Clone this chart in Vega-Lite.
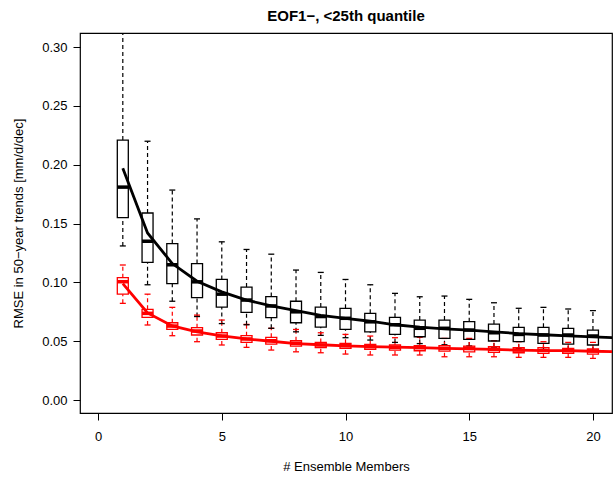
{
  "$schema": "https://vega.github.io/schema/vega-lite/v6.json",
  "autosize": {"type": "none"},
  "width": 532,
  "height": 380,
  "padding": {"left": 80, "top": 33, "right": 3, "bottom": 64},
  "background": "white",
  "config": {
    "font": "Liberation Sans",
    "view": {"stroke": "black", "strokeWidth": 1.2},
    "scale": {"continuousPadding": 0},
    "axis": {
      "domain": false,
      "grid": false,
      "ticks": true,
      "tickColor": "black",
      "tickSize": 7,
      "tickWidth": 1,
      "labelColor": "black",
      "labelFontSize": 13,
      "titleColor": "black",
      "titleFontSize": 13,
      "titleFontWeight": "normal"
    }
  },
  "title": {
    "text": "EOF1−, <25th quantile",
    "fontSize": 15,
    "fontWeight": "bold",
    "anchor": "middle",
    "offset": 9,
    "color": "black"
  },
  "datasets": {
    "boxes": [
      {"n": 1, "grp": "Black", "lo": 0.131, "q1": 0.155, "med": 0.181, "q3": 0.221, "hi": 0.34},
      {"n": 2, "grp": "Black", "lo": 0.098, "q1": 0.117, "med": 0.135, "q3": 0.159, "hi": 0.220},
      {"n": 3, "grp": "Black", "lo": 0.084, "q1": 0.099, "med": 0.115, "q3": 0.133, "hi": 0.1785},
      {"n": 4, "grp": "Black", "lo": 0.071, "q1": 0.087, "med": 0.1005, "q3": 0.116, "hi": 0.154},
      {"n": 5, "grp": "Black", "lo": 0.065, "q1": 0.079, "med": 0.090, "q3": 0.1025, "hi": 0.1345},
      {"n": 6, "grp": "Black", "lo": 0.064, "q1": 0.0745, "med": 0.085, "q3": 0.096, "hi": 0.128},
      {"n": 7, "grp": "Black", "lo": 0.061, "q1": 0.070, "med": 0.080, "q3": 0.088, "hi": 0.124},
      {"n": 8, "grp": "Black", "lo": 0.058, "q1": 0.0657, "med": 0.075, "q3": 0.084, "hi": 0.1105},
      {"n": 9, "grp": "Black", "lo": 0.055, "q1": 0.062, "med": 0.071, "q3": 0.079, "hi": 0.1085},
      {"n": 10, "grp": "Black", "lo": 0.053, "q1": 0.060, "med": 0.0695, "q3": 0.078, "hi": 0.1025},
      {"n": 11, "grp": "Black", "lo": 0.051, "q1": 0.058, "med": 0.0665, "q3": 0.0737, "hi": 0.098},
      {"n": 12, "grp": "Black", "lo": 0.049, "q1": 0.0558, "med": 0.064, "q3": 0.0703, "hi": 0.0907},
      {"n": 13, "grp": "Black", "lo": 0.048, "q1": 0.0538, "med": 0.061, "q3": 0.068, "hi": 0.0878},
      {"n": 14, "grp": "Black", "lo": 0.047, "q1": 0.0524, "med": 0.061, "q3": 0.068, "hi": 0.0884},
      {"n": 15, "grp": "Black", "lo": 0.046, "q1": 0.0516, "med": 0.0595, "q3": 0.0666, "hi": 0.0856},
      {"n": 16, "grp": "Black", "lo": 0.045, "q1": 0.0502, "med": 0.0572, "q3": 0.0646, "hi": 0.0827},
      {"n": 17, "grp": "Black", "lo": 0.044, "q1": 0.0496, "med": 0.0558, "q3": 0.0618, "hi": 0.078},
      {"n": 18, "grp": "Black", "lo": 0.043, "q1": 0.0482, "med": 0.0553, "q3": 0.0618, "hi": 0.0788},
      {"n": 19, "grp": "Black", "lo": 0.0425, "q1": 0.0476, "med": 0.0553, "q3": 0.061, "hi": 0.0774},
      {"n": 20, "grp": "Black", "lo": 0.042, "q1": 0.0468, "med": 0.0544, "q3": 0.0595, "hi": 0.076},
      {"n": 1, "grp": "Red", "lo": 0.0822, "q1": 0.090, "med": 0.1006, "q3": 0.104, "hi": 0.1148},
      {"n": 2, "grp": "Red", "lo": 0.0638, "q1": 0.0703, "med": 0.0737, "q3": 0.0771, "hi": 0.090},
      {"n": 3, "grp": "Red", "lo": 0.0547, "q1": 0.060, "med": 0.0629, "q3": 0.0657, "hi": 0.0788},
      {"n": 4, "grp": "Red", "lo": 0.0496, "q1": 0.0553, "med": 0.0587, "q3": 0.0615, "hi": 0.0722},
      {"n": 5, "grp": "Red", "lo": 0.0468, "q1": 0.0516, "med": 0.0544, "q3": 0.0572, "hi": 0.068},
      {"n": 6, "grp": "Red", "lo": 0.0448, "q1": 0.049, "med": 0.0519, "q3": 0.0547, "hi": 0.0643},
      {"n": 7, "grp": "Red", "lo": 0.0425, "q1": 0.0476, "med": 0.0504, "q3": 0.0533, "hi": 0.061},
      {"n": 8, "grp": "Red", "lo": 0.041, "q1": 0.0459, "med": 0.0482, "q3": 0.0504, "hi": 0.060},
      {"n": 9, "grp": "Red", "lo": 0.0402, "q1": 0.0445, "med": 0.0468, "q3": 0.049, "hi": 0.0572},
      {"n": 10, "grp": "Red", "lo": 0.0391, "q1": 0.044, "med": 0.0462, "q3": 0.0482, "hi": 0.0558},
      {"n": 11, "grp": "Red", "lo": 0.0383, "q1": 0.0431, "med": 0.0453, "q3": 0.0473, "hi": 0.0544},
      {"n": 12, "grp": "Red", "lo": 0.0383, "q1": 0.0425, "med": 0.0448, "q3": 0.0468, "hi": 0.053},
      {"n": 13, "grp": "Red", "lo": 0.0383, "q1": 0.0419, "med": 0.0445, "q3": 0.0462, "hi": 0.0533},
      {"n": 14, "grp": "Red", "lo": 0.0368, "q1": 0.0416, "med": 0.044, "q3": 0.0462, "hi": 0.0524},
      {"n": 15, "grp": "Red", "lo": 0.0368, "q1": 0.041, "med": 0.044, "q3": 0.0459, "hi": 0.0524},
      {"n": 16, "grp": "Red", "lo": 0.0368, "q1": 0.0405, "med": 0.0431, "q3": 0.0453, "hi": 0.0504},
      {"n": 17, "grp": "Red", "lo": 0.0363, "q1": 0.0402, "med": 0.0425, "q3": 0.0445, "hi": 0.0496},
      {"n": 18, "grp": "Red", "lo": 0.0363, "q1": 0.0397, "med": 0.0422, "q3": 0.0445, "hi": 0.0496},
      {"n": 19, "grp": "Red", "lo": 0.0363, "q1": 0.0397, "med": 0.0419, "q3": 0.044, "hi": 0.049},
      {"n": 20, "grp": "Red", "lo": 0.0354, "q1": 0.0391, "med": 0.0416, "q3": 0.0434, "hi": 0.049}
    ],
    "means": [
      {"n": 1, "grp": "Black", "mean": 0.197},
      {"n": 2, "grp": "Black", "mean": 0.142},
      {"n": 3, "grp": "Black", "mean": 0.116},
      {"n": 4, "grp": "Black", "mean": 0.101},
      {"n": 5, "grp": "Black", "mean": 0.092},
      {"n": 6, "grp": "Black", "mean": 0.085},
      {"n": 7, "grp": "Black", "mean": 0.080},
      {"n": 8, "grp": "Black", "mean": 0.076},
      {"n": 9, "grp": "Black", "mean": 0.072},
      {"n": 10, "grp": "Black", "mean": 0.0695},
      {"n": 11, "grp": "Black", "mean": 0.067},
      {"n": 12, "grp": "Black", "mean": 0.064},
      {"n": 13, "grp": "Black", "mean": 0.062},
      {"n": 14, "grp": "Black", "mean": 0.0605},
      {"n": 15, "grp": "Black", "mean": 0.0595},
      {"n": 16, "grp": "Black", "mean": 0.058},
      {"n": 17, "grp": "Black", "mean": 0.0565},
      {"n": 18, "grp": "Black", "mean": 0.0555},
      {"n": 19, "grp": "Black", "mean": 0.0545},
      {"n": 20, "grp": "Black", "mean": 0.0537},
      {"n": 21, "grp": "Black", "mean": 0.0528},
      {"n": 1, "grp": "Red", "mean": 0.099},
      {"n": 2, "grp": "Red", "mean": 0.074},
      {"n": 3, "grp": "Red", "mean": 0.063},
      {"n": 4, "grp": "Red", "mean": 0.058},
      {"n": 5, "grp": "Red", "mean": 0.0545},
      {"n": 6, "grp": "Red", "mean": 0.052},
      {"n": 7, "grp": "Red", "mean": 0.050},
      {"n": 8, "grp": "Red", "mean": 0.048},
      {"n": 9, "grp": "Red", "mean": 0.047},
      {"n": 10, "grp": "Red", "mean": 0.046},
      {"n": 11, "grp": "Red", "mean": 0.0455},
      {"n": 12, "grp": "Red", "mean": 0.045},
      {"n": 13, "grp": "Red", "mean": 0.0445},
      {"n": 14, "grp": "Red", "mean": 0.044},
      {"n": 15, "grp": "Red", "mean": 0.0435},
      {"n": 16, "grp": "Red", "mean": 0.043},
      {"n": 17, "grp": "Red", "mean": 0.0425},
      {"n": 18, "grp": "Red", "mean": 0.042},
      {"n": 19, "grp": "Red", "mean": 0.042},
      {"n": 20, "grp": "Red", "mean": 0.0415},
      {"n": 21, "grp": "Red", "mean": 0.041}
    ]
  },
  "encoding": {
    "x": {
      "field": "n",
      "type": "quantitative",
      "scale": {"domain": [-0.73, 20.77], "nice": false, "zero": false, "padding": 0},
      "axis": {
        "values": [0, 5, 10, 15, 20],
        "title": "# Ensemble Members",
        "labelPadding": 10,
        "titlePadding": 17,
        "labelFlush": false
      }
    },
    "color": {
      "field": "grp",
      "type": "nominal",
      "scale": {"domain": ["Black", "Red"], "range": ["#000000", "#ff0000"]},
      "legend": null
    }
  },
  "layer": [
    {
      "data": {"name": "boxes"},
      "mark": {"type": "rule", "strokeDash": [4, 3], "strokeWidth": 1.2, "clip": true},
      "encoding": {
        "y": {
          "field": "lo",
          "type": "quantitative",
          "scale": {"domain": [-0.011, 0.312], "nice": false, "zero": false, "padding": 0},
          "axis": {
            "values": [0, 0.05, 0.1, 0.15, 0.2, 0.25, 0.3],
            "format": ".2f",
            "title": "RMSE in 50−year trends [mm/d/dec]",
            "labelPadding": 6,
            "titlePadding": 16,
            "labelFlush": false
          }
        },
        "y2": {"field": "q1"}
      }
    },
    {
      "data": {"name": "boxes"},
      "mark": {"type": "rule", "strokeDash": [4, 3], "strokeWidth": 1.2, "clip": true},
      "encoding": {
        "y": {"field": "q3", "type": "quantitative"},
        "y2": {"field": "hi"}
      }
    },
    {
      "data": {"name": "boxes"},
      "mark": {"type": "tick", "orient": "horizontal", "size": 6, "thickness": 1.3, "opacity": 1, "clip": true},
      "encoding": {
        "y": {"field": "hi", "type": "quantitative"}
      }
    },
    {
      "data": {"name": "boxes"},
      "mark": {"type": "tick", "orient": "horizontal", "size": 6, "thickness": 1.3, "opacity": 1, "clip": true},
      "encoding": {
        "y": {"field": "lo", "type": "quantitative"}
      }
    },
    {
      "data": {"name": "boxes"},
      "mark": {"type": "bar", "filled": false, "width": 11, "strokeWidth": 1.3, "opacity": 1, "clip": true},
      "encoding": {
        "y": {"field": "q1", "type": "quantitative"},
        "y2": {"field": "q3"},
        "stroke": {"field": "grp", "type": "nominal", "scale": {"domain": ["Black", "Red"], "range": ["#000000", "#ff0000"]}, "legend": null}
      }
    },
    {
      "data": {"name": "boxes"},
      "mark": {"type": "tick", "orient": "horizontal", "size": 11, "thickness": 3.5, "opacity": 1, "clip": true},
      "encoding": {
        "y": {"field": "med", "type": "quantitative"}
      }
    },
    {
      "data": {"name": "means"},
      "mark": {"type": "line", "strokeWidth": 2.8, "clip": true},
      "encoding": {
        "y": {"field": "mean", "type": "quantitative"}
      }
    }
  ]
}
